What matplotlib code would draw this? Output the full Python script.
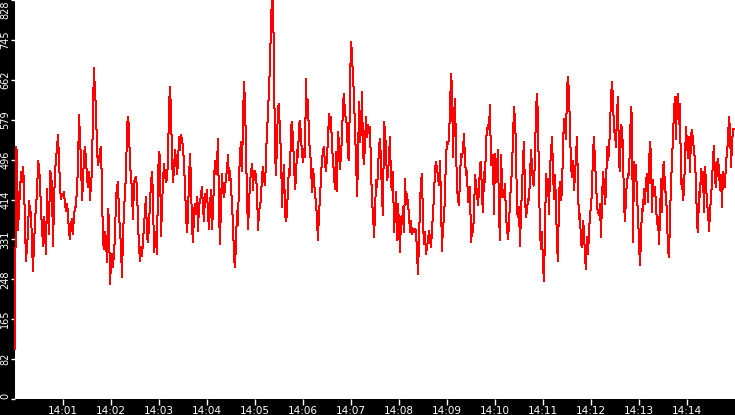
import numpy as np
import matplotlib
matplotlib.use("Agg")
import matplotlib.pyplot as plt

# readings, one list per 2.5 minute stretch (14:00:00 -> 14:15:00)
seg_1 = [104, 523, 513, 350, 395, 433, 471, 450, 481, 447,
         360, 287, 315, 346, 412, 391, 388, 322, 266, 325,
         363, 408, 419, 495, 481, 450, 391, 356, 318, 377,
         343, 301, 436, 384, 343, 474, 467, 440, 318, 405,
         474, 495, 523, 547, 499, 440, 415, 426, 422, 429,
         402, 391, 405, 384, 346, 332, 363, 374, 343, 384,
         395, 402, 440, 478, 589, 540, 495, 412, 447, 509,
         523, 495, 460, 440, 471, 412, 447, 471, 606, 686,
         634, 603, 516, 485, 495, 516, 523, 433, 325, 311,
         346, 329, 284, 395, 370, 239, 280, 301, 273, 304,
         336, 419, 440, 450, 381, 353, 315, 252, 343, 384,
         436, 457, 568, 585, 564, 481, 467, 426, 374, 450]
seg_2 = [457, 460, 440, 363, 318, 287, 315, 297, 329, 360,
         391, 419, 336, 325, 363, 408, 447, 471, 419, 304,
         346, 329, 301, 460, 513, 502, 339, 398, 454, 488,
         464, 450, 457, 495, 606, 648, 596, 502, 450, 478,
         516, 499, 467, 488, 544, 516, 547, 537, 523, 488,
         440, 384, 346, 384, 457, 509, 454, 356, 325, 388,
         405, 384, 419, 349, 405, 408, 426, 440, 395, 370,
         426, 415, 433, 384, 353, 402, 433, 353, 391, 454,
         495, 467, 488, 540, 388, 322, 408, 467, 433, 419,
         440, 460, 474, 506, 454, 474, 443, 402, 363, 294,
         273, 325, 391, 360, 457, 509, 533, 474, 582, 658,
         613, 523, 415, 353, 398, 454, 467, 488, 433, 474]
seg_3 = [474, 460, 436, 350, 391, 398, 419, 464, 481, 454,
         443, 495, 564, 582, 658, 682, 793, 825, 828, 693,
         512, 464, 537, 606, 613, 544, 516, 398, 454, 485,
         384, 370, 384, 443, 478, 464, 564, 575, 537, 492,
         436, 460, 516, 502, 568, 578, 544, 509, 492, 519,
         502, 665, 582, 620, 537, 516, 488, 429, 478, 457,
         422, 412, 370, 329, 391, 412, 467, 495, 516, 523,
         485, 474, 502, 540, 592, 561, 585, 523, 498, 464,
         436, 512, 432, 554, 530, 478, 509, 544, 613, 634,
         589, 582, 564, 502, 495, 651, 741, 717, 665, 634,
         551, 505, 422, 488, 616, 533, 561, 637, 512, 488,
         530, 585, 544, 568, 551, 564, 481, 408, 388, 336]
seg_4 = [384, 454, 440, 471, 526, 540, 492, 419, 381, 575,
         558, 516, 454, 464, 506, 544, 447, 433, 471, 346,
         388, 429, 329, 405, 360, 304, 377, 363, 398, 346,
         457, 405, 426, 402, 384, 346, 370, 343, 353, 346,
         353, 349, 304, 259, 332, 402, 454, 467, 367, 322,
         346, 301, 315, 329, 349, 332, 315, 349, 388, 419,
         478, 492, 478, 460, 443, 495, 408, 308, 363, 370,
         429, 502, 533, 530, 540, 603, 675, 648, 502, 585,
         623, 523, 440, 412, 402, 460, 509, 502, 516, 551,
         495, 464, 474, 408, 415, 440, 325, 349, 346, 384,
         464, 447, 426, 402, 433, 488, 492, 419, 388, 471,
         450, 537, 558, 568, 561, 610, 485, 506, 506, 384]
seg_5 = [509, 450, 481, 516, 381, 329, 506, 450, 419, 422,
         447, 377, 356, 332, 363, 412, 443, 481, 544, 606,
         578, 523, 391, 377, 398, 318, 391, 433, 499, 533,
         419, 377, 391, 415, 412, 460, 516, 481, 447, 443,
         506, 599, 634, 582, 447, 346, 311, 346, 277, 245,
         349, 467, 447, 457, 384, 478, 513, 544, 474, 415,
         464, 405, 318, 287, 426, 450, 412, 433, 523, 582,
         564, 540, 644, 668, 634, 558, 485, 460, 495, 433,
         464, 502, 544, 433, 374, 384, 322, 315, 370, 349,
         294, 270, 336, 301, 346, 384, 398, 436, 513, 544,
         488, 457, 398, 388, 381, 405, 336, 412, 471, 443,
         405, 433, 523, 495, 513, 564, 627, 658, 623, 554]
seg_6 = [551, 523, 596, 627, 488, 474, 568, 564, 513, 405,
         370, 422, 450, 467, 464, 533, 606, 585, 325, 492,
         460, 485, 419, 384, 322, 277, 339, 395, 391, 436,
         405, 454, 467, 408, 485, 533, 506, 388, 454, 422,
         440, 402, 363, 377, 322, 377, 457, 388, 481, 492,
         433, 426, 377, 308, 294, 377, 447, 492, 544, 599,
         627, 540, 620, 634, 571, 613, 447, 457, 412, 433,
         502, 564, 530, 499, 544, 471, 547, 558, 537, 516,
         495, 447, 363, 346, 429, 419, 478, 447, 471, 388,
         481, 450, 405, 391, 349, 384, 422, 447, 502, 526,
         454, 440, 485, 499, 474, 433, 464, 398, 471, 457,
         440, 495, 509, 540, 585, 558, 481, 530, 561, 561]

y_max = 828
y_labels = ["0", "82", "165", "248", "331", "414", "496", "579", "662", "745", "828"]
x_labels = ["14:01", "14:02", "14:03", "14:04", "14:05", "14:06", "14:07",
            "14:08", "14:09", "14:10", "14:11", "14:12", "14:13", "14:14"]

values = np.array(seg_1 + seg_2 + seg_3 + seg_4 + seg_5 + seg_6, dtype=float)
span = 15 * 60  # seconds shown
secs = np.arange(len(values)) * span / len(values)

fig = plt.figure(figsize=(7.35, 4.15), dpi=100, facecolor="black")
ax = fig.add_axes([15 / 735, 16 / 415, 720 / 735, 399 / 415])
ax.set_facecolor("white")

# the first sample sits on the left edge, keep it visible
ax.plot(secs, values, color="red", lw=0.72, antialiased=False, clip_on=False)

ax.set_xlim(0, span)
ax.set_ylim(0, y_max)
for s in ax.spines.values():
    s.set_visible(False)

ax.set_xticks([60 * (i + 1) for i in range(len(x_labels))])
ax.set_xticklabels(x_labels)
ax.set_yticks([y_max * i / 10 for i in range(len(y_labels))])
ax.set_yticklabels(y_labels, rotation=90, va="center")
ax.get_yticklabels()[0].set_va("bottom")
ax.get_yticklabels()[-1].set_va("top")

ax.tick_params(axis="x", colors="white", direction="out", length=4, width=1,
               labelsize=7.5, pad=1)
ax.tick_params(axis="y", colors="white", direction="out", length=3, width=1,
               labelsize=7, pad=0.5)

fig.savefig("out.png", dpi=100, facecolor="black")
